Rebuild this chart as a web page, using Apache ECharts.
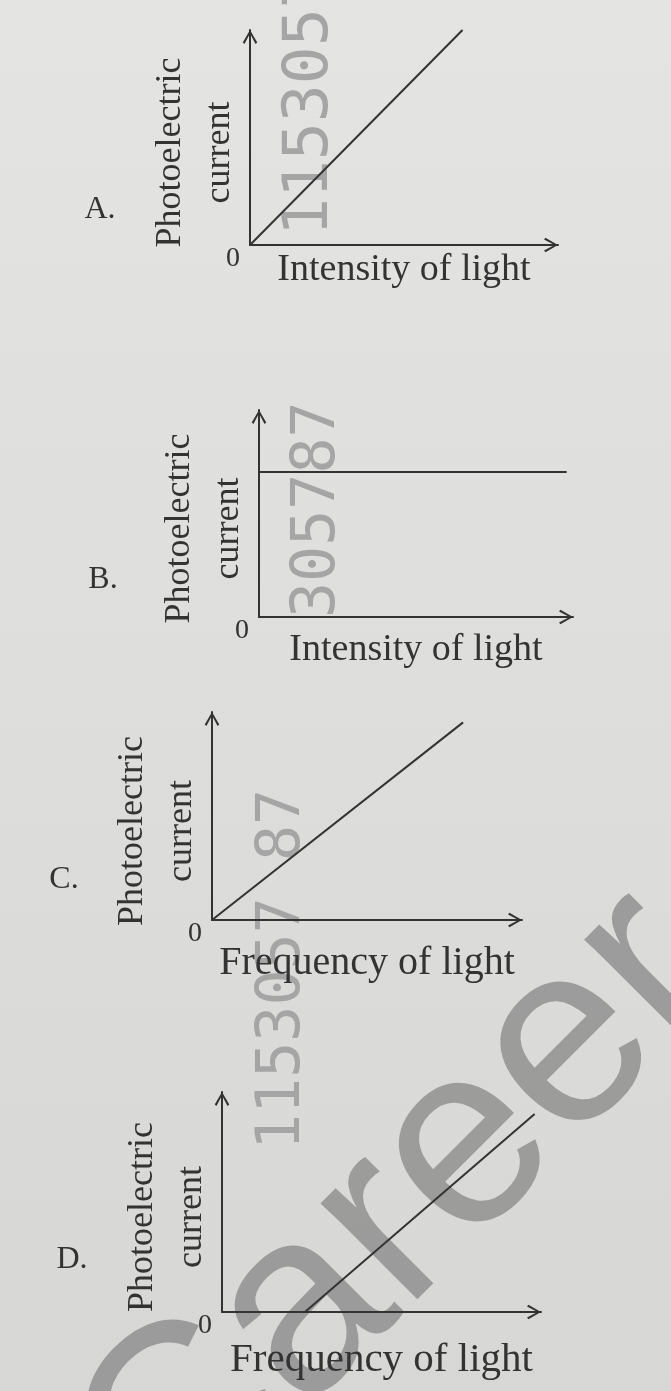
<!DOCTYPE html>
<html>
<head>
<meta charset="utf-8">
<title>Photoelectric current graphs</title>
<script src="https://cdn.jsdelivr.net/npm/echarts@6/dist/echarts.min.js"></script>
<style>
  html, body { margin: 0; padding: 0; background: #dddddb; }
  #chart { width: 671px; height: 1391px; }
</style>
</head>
<body>
<div id="chart"></div>
<script>
// ---- data ----
const panelTags = ['A.', 'B.', 'C.', 'D.'];
const xNames = ['Intensity of light', 'Intensity of light', 'Frequency of light', 'Frequency of light'];
const yName = 'Photoelectric\ncurrent';
const originLabel = '0';

// each line: [x, y] in axis units (0..10 on both axes)
const lineA = [[0, 0], [6.9, 10]];
const lineB = [[0, 7], [9.8, 7]];
const lineC = [[0, 0], [8.1, 9.5]];
const lineD = [[2.6, 0], [9.8, 9]];
const lines = [lineA, lineB, lineC, lineD];

// ---- layout ----
const INK = '#333333';
const SERIF = '"Liberation Serif", "DejaVu Serif", serif';
const grids = [
  { left: 250, top: 30, width: 308, height: 215 },
  { left: 259, top: 410, width: 314, height: 207 },
  { left: 212, top: 712, width: 310, height: 208 },
  { left: 222, top: 1092, width: 319, height: 220 }
];
const tagPos = [[100, 210], [103, 580], [64, 880], [72, 1260]];
// the photo is not quite flat, so the lower labels sit a bit further out
const xNameGap = [5, 13, 23, 28];
const xNameSize = [38, 38, 40, 41];

// open chevron arrow head
const ARROW = 'path://M0,86 L50,0 L100,86 L88,96 L50,24 L12,96 Z';

const axisLine = {
  show: true,
  symbol: ['none', ARROW],
  symbolSize: [25, 14],
  symbolOffset: [0, -7],
  lineStyle: { color: INK, width: 2 }
};

const xAxes = grids.map((g, i) => ({
  type: 'value', gridIndex: i, min: 0, max: 10, interval: 10,
  axisLine: axisLine,
  axisTick: { show: false },
  splitLine: { show: false },
  axisLabel: { show: false },
  name: xNames[i],
  nameLocation: 'middle',
  nameGap: xNameGap[i],
  nameMoveOverlap: false,
  nameTextStyle: { fontFamily: SERIF, fontSize: xNameSize[i], lineHeight: 40, color: INK }
}));

const yAxes = grids.map((g, i) => ({
  type: 'value', gridIndex: i, min: 0, max: 10, interval: 10,
  axisLine: axisLine,
  axisTick: { show: false },
  splitLine: { show: false },
  axisLabel: {
    formatter: v => (v === 0 ? originLabel : ''),
    margin: 10,
    verticalAlign: 'top',
    fontFamily: SERIF, fontSize: 28, color: INK
  },
  name: yName,
  nameLocation: 'middle',
  nameRotate: 90,
  nameGap: 6,
  nameMoveOverlap: false,
  nameTextStyle: { fontFamily: SERIF, fontSize: 36, lineHeight: 49, color: INK, padding: [0, 30, 0, 0] }
}));

const series = lines.map((d, i) => ({
  type: 'line', xAxisIndex: i, yAxisIndex: i,
  data: d, symbol: 'none', silent: true, z: 3,
  lineStyle: { color: INK, width: 2 }
}));

// watermarks and panel letters
const MONO = '"DejaVu Sans Mono", monospace';
const graphic = [
  {
    type: 'text', x: 400, y: 1216, rotation: 45 * Math.PI / 180, z: -10,
    style: {
      text: 'Career', fill: '#919191', opacity: 0.85,
      font: '258px "Liberation Sans", Arial, sans-serif',
      textAlign: 'center', textVerticalAlign: 'middle'
    }
  },
  {
    type: 'text', x: 311, y: 236, rotation: Math.PI / 2, z: -9,
    style: { text: '115305787', fill: '#a5a5a5', font: '63px ' + MONO, textAlign: 'left', textVerticalAlign: 'middle' }
  },
  {
    type: 'text', x: 318, y: 618, rotation: Math.PI / 2, z: -9,
    style: { text: '305787', fill: '#a5a5a5', font: '60px ' + MONO, textAlign: 'left', textVerticalAlign: 'middle' }
  },
  {
    type: 'text', x: 283, y: 1150, rotation: Math.PI / 2, z: -9,
    style: { text: '1153057 87', fill: '#a5a5a5', font: '60px ' + MONO, textAlign: 'left', textVerticalAlign: 'middle' }
  }
].concat(panelTags.map((t, i) => ({
  type: 'text', x: tagPos[i][0], y: tagPos[i][1], z: 5,
  style: { text: t, fill: INK, font: '32px ' + SERIF, textAlign: 'center', textVerticalAlign: 'middle' }
})));

const chart = echarts.init(document.getElementById('chart'), null, { renderer: 'canvas' });
chart.setOption({
  animation: false,
  backgroundColor: new echarts.graphic.LinearGradient(0, 0, 0, 1, [
    { offset: 0, color: '#e4e4e2' },
    { offset: 1, color: '#d7d7d5' }
  ]),
  grid: grids.map(g => Object.assign({ containLabel: false }, g)),
  xAxis: xAxes,
  yAxis: yAxes,
  series: series,
  graphic: graphic
});
</script>
</body>
</html>
